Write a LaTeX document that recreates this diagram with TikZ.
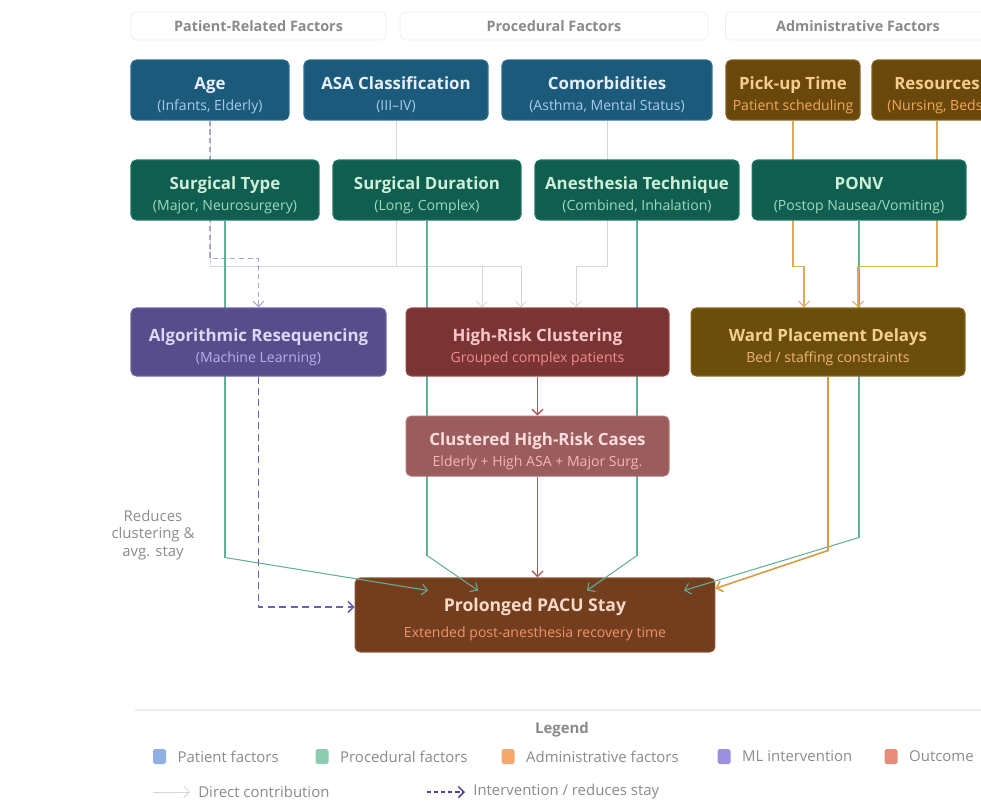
\documentclass[tikz,border=0pt]{standalone}
\usepackage{fontspec}
\setmainfont{Open Sans}
\usetikzlibrary{arrows.meta,positioning}
\pgfdeclarelayer{bg}
\pgfsetlayers{bg,main}

\definecolor{patfill}{HTML}{1C5A7B}
\definecolor{patline}{HTML}{2A6C90}
\definecolor{pattitle}{HTML}{E6EFF7}
\definecolor{patsub}{HTML}{A7CBEB}
\definecolor{procfill}{HTML}{0F5E4F}
\definecolor{procline}{HTML}{1D7262}
\definecolor{proctitle}{HTML}{CDEFD9}
\definecolor{procsub}{HTML}{9FD9BF}
\definecolor{admfill}{HTML}{6A480B}
\definecolor{admline}{HTML}{84601E}
\definecolor{admtitle}{HTML}{F6CB8E}
\definecolor{admsub}{HTML}{F2A95E}
\definecolor{mlfill}{HTML}{564D8A}
\definecolor{mlline}{HTML}{6A62A3}
\definecolor{mltitle}{HTML}{DCD8F5}
\definecolor{mlsub}{HTML}{B7AEEF}
\definecolor{riskfill}{HTML}{7A3434}
\definecolor{riskline}{HTML}{904646}
\definecolor{risktitle}{HTML}{F8C8C8}
\definecolor{risksub}{HTML}{F28C8C}
\definecolor{wardfill}{HTML}{6B4E0B}
\definecolor{wardline}{HTML}{86661E}
\definecolor{wardtitle}{HTML}{F6D08E}
\definecolor{wardsub}{HTML}{EFB475}
\definecolor{clusfill}{HTML}{9A5C5C}
\definecolor{clusline}{HTML}{B07272}
\definecolor{clustitle}{HTML}{FCDCDC}
\definecolor{clussub}{HTML}{F5B7B3}
\definecolor{pacufill}{HTML}{723E1E}
\definecolor{paculine}{HTML}{8C5130}
\definecolor{pacutitle}{HTML}{F8D9C8}
\definecolor{pacusub}{HTML}{F2926C}
\definecolor{hdtext}{HTML}{8A8A8A}
\definecolor{hdline}{HTML}{EDEDED}
\definecolor{grayconn}{HTML}{D6D6D6}
\definecolor{tealconn}{HTML}{62B09A}
\definecolor{orangeconn}{HTML}{DDAA5E}
\definecolor{wardconn}{HTML}{D89A3C}
\definecolor{roseconn}{HTML}{A65A5A}
\definecolor{mlconn}{HTML}{6B5FB3}
\definecolor{mlconnlight}{HTML}{ABA5CA}
\definecolor{notetext}{HTML}{8C8C8C}
\definecolor{keypat}{HTML}{8FB1E3}
\definecolor{keyproc}{HTML}{8CCDB0}
\definecolor{keyadm}{HTML}{F4A86C}
\definecolor{keyml}{HTML}{9B91E0}
\definecolor{keyout}{HTML}{E58D78}
\definecolor{keydash}{HTML}{4A4390}

\newcommand{\boxtitle}[1]{\rule{0pt}{14pt}{\fontsize{9.6}{12}\selectfont\bfseries #1}}
\newcommand{\boxsub}[2]{{\fontsize{8}{10}\selectfont\color{#1}#2}\rule[-3pt]{0pt}{3pt}}

\begin{document}
\begin{tikzpicture}[x=0.02cm, y=-0.02cm,
    >={Straight Barb[length=1.1mm,width=2.2mm]},
    factor/.style={rectangle, rounded corners=3pt, draw=#1line, fill=#1fill,
      text=#1title, align=center, minimum height=1.2cm, inner sep=1pt, line width=0.6pt,
      font=\fontsize{8}{12}\selectfont},
    header/.style={rectangle, rounded corners=3pt, draw=hdline, fill=white, text=hdtext,
      minimum height=0.56cm, font=\fontsize{8.2}{10}\selectfont\bfseries},
    gline/.style={draw=grayconn, line width=0.5pt},
    tline/.style={draw=tealconn, line width=0.6pt},
    oline/.style={draw=orangeconn, line width=0.6pt},
    rline/.style={draw=roseconn, line width=0.8pt},
    mlline/.style={draw=mlconn, line width=0.9pt, dash pattern=on 4pt off 2.5pt},
    mllight/.style={draw=mlconnlight, line width=0.6pt, dash pattern=on 3pt off 2pt},
    note/.style={text=notetext, align=center, font=\fontsize{8.5}{9.8}\selectfont},
    key/.style={rectangle, rounded corners=1pt, minimum width=0.26cm, minimum height=0.3cm, inner sep=0pt},
    keytext/.style={text=hdtext, inner sep=0pt, anchor=west, font=\fontsize{8.5}{10}\selectfont}]
  \useasboundingbox (0,0) rectangle (981,801);
  \clip (0,0) rectangle (981,801);

  % column headers
  \node[header, minimum width=5.1cm] (hdpat) at (258.5,26) {Patient-Related Factors};
  \node[header, minimum width=6.16cm] (hdproc) at (554,26) {Procedural Factors};
  \node[header, minimum width=5.5cm] (hdadm) at (863,26) {\hspace*{-0.2cm}Administrative Factors};

  % first row
  \node[factor=pat, minimum width=3.16cm] (age) at (210,90) {\boxtitle{Age}\\\boxsub{patsub}{(Infants, Elderly)}};
  \node[factor=pat, minimum width=3.68cm] (asa) at (396,90) {\boxtitle{ASA Classification}\\\boxsub{patsub}{(III--IV)}};
  \node[factor=pat, minimum width=4.2cm] (comorb) at (607,90) {\boxtitle{Comorbidities}\\\boxsub{patsub}{(Asthma, Mental Status)}};
  \node[factor=adm, minimum width=2.68cm] (pickup) at (793,90) {\boxtitle{Pick-up Time}\\\boxsub{admsub}{Patient scheduling}};
  \node[factor=adm, minimum width=2.6cm] (resources) at (937,90) {\boxtitle{Resources}\\\boxsub{admsub}{(Nursing, Beds)}};

  % second row
  \node[factor=proc, minimum width=3.76cm] (surgtype) at (225,190) {\boxtitle{Surgical Type}\\\boxsub{procsub}{(Major, Neurosurgery)}};
  \node[factor=proc, minimum width=3.76cm] (surgdur) at (427,190) {\boxtitle{Surgical Duration}\\\boxsub{procsub}{(Long, Complex)}};
  \node[factor=proc, minimum width=4.08cm] (anesth) at (637,190) {\boxtitle{Anesthesia Technique}\\\boxsub{procsub}{(Combined, Inhalation)}};
  \node[factor=proc, minimum width=4.28cm] (ponv) at (859,190) {\boxtitle{PONV}\\\boxsub{procsub}{(Postop Nausea/Vomiting)}};

  % mechanisms
  \node[factor=ml, minimum width=5.1cm, minimum height=1.36cm] (algo) at (258.5,342) {\boxtitle{Algorithmic Resequencing}\\\boxsub{mlsub}{(Machine Learning)}};
  \node[factor=risk, minimum width=5.26cm, minimum height=1.36cm] (highrisk) at (537.5,342) {\boxtitle{High-Risk Clustering}\\\boxsub{risksub}{Grouped complex patients}};
  \node[factor=ward, minimum width=5.48cm, minimum height=1.36cm] (ward) at (828,342) {\boxtitle{Ward Placement Delays}\\\boxsub{wardsub}{Bed / staffing constraints}};
  \node[factor=clus, minimum width=5.26cm, below=0.78cm of highrisk] (clustered) {\boxtitle{Clustered High-Risk Cases}\\\boxsub{clussub}{Elderly + High ASA + Major Surg.}};

  % outcome
  \node[factor=pacu, minimum width=7.2cm, minimum height=1.48cm] (pacu) at (535,615) {\rule{0pt}{14pt}{\fontsize{10}{12}\selectfont\bfseries Prolonged PACU Stay}\\[2.7pt]\boxsub{pacusub}{Extended post-anesthesia recovery time}};

  \node[note] (reduces) at (153,535) {Reduces\\clustering \&\\avg. stay};

  % bends above the outcome box
  \path (surgtype.south) ++(0,337) coordinate (stbend);
  \path (surgdur.south) ++(0,335) coordinate (sdbend);
  \path (anesth.south) ++(0,335) coordinate (atbend);
  \path (ponv.south) ++(0,317) coordinate (pnbend);
  \path (ward.south) ++(0,174) coordinate (wdbend);

  \begin{pgfonlayer}{bg}
    \draw[gline, ->] (age.south) -- ++(0,146) -| ([xshift=-1.11cm]highrisk.north);
    \draw[gline, ->] (asa.south) -- ++(0,146) -| ([xshift=-0.33cm]highrisk.north);
    \draw[gline, ->] (comorb.south) -- ++(0,146) -| ([xshift=0.77cm]highrisk.north);
    \draw[mllight, ->] (age.south) -- ++(0,138) -| (algo.north);

    \draw[tline] (surgtype.south) -- (stbend);
    \draw[tline] (surgdur.south) -- (sdbend);
    \draw[tline] (anesth.south) -- (atbend);
    \draw[tline] (ponv.south) -- (pnbend);

    \draw[oline, ->] (pickup.south) -- ++(0,146) -| ([xshift=-0.48cm]ward.north);
    \draw[oline, ->] (resources.south) -- ++(0,146) -| ([xshift=0.6cm]ward.north);
  \end{pgfonlayer}

  \draw[tline, ->] (stbend) -- ([shift={(-107,13)}]pacu.north);
  \draw[tline, ->] (sdbend) -- ([shift={(-57,13)}]pacu.north);
  \draw[tline, ->] (atbend) -- ([shift={(52,13)}]pacu.north);
  \draw[tline, ->] (pnbend) -- ([shift={(149,13)}]pacu.north);
  \draw[draw=wardconn, line width=0.9pt, ->] (ward.south) -- (wdbend) -- ([shift={(0,11)}]pacu.north east);

  \draw[rline, ->] (highrisk) -- (clustered);
  \draw[rline, ->] (clustered.south) -- (clustered.south |- pacu.north);
  \draw[mlline, ->] (algo.south) |- ([yshift=0.16cm]pacu.west);

  % legend
  \draw[draw=hdline, line width=0.6pt] (135,710) -- (981,710);
  \node[text=hdtext, font=\fontsize{8.5}{10}\selectfont\bfseries] (legend) at (562,730) {Legend};
  \node[key, fill=keypat] (kpat) at (159.5,756.5) {};
  \node[keytext, right=0.22cm of kpat] (kpattext) {Patient factors};
  \node[key, fill=keyproc] (kproc) at (322,756.5) {};
  \node[keytext, right=0.22cm of kproc] (kproctext) {Procedural factors};
  \node[key, fill=keyadm] (kadm) at (508,756.5) {};
  \node[keytext, right=0.22cm of kadm] (kadmtext) {Administrative factors};
  \node[key, fill=keyml] (kml) at (724,756.5) {};
  \node[keytext, right=0.22cm of kml] (kmltext) {ML intervention};
  \node[key, fill=keyout] (kout) at (891,756.5) {};
  \node[keytext, right=0.22cm of kout] (kouttext) {Outcome};

  \coordinate (ldirA) at (153,792);
  \coordinate (ldirB) at (190,792);
  \draw[gline, ->] (ldirA) -- (ldirB);
  \node[keytext, right=0.16cm of ldirB] (ldirtext) {Direct contribution};
  \coordinate (lintA) at (427,792);
  \coordinate (lintB) at (465,792);
  \draw[draw=keydash, line width=0.9pt, dash pattern=on 2.5pt off 1.5pt, ->] (lintA) -- (lintB);
  \node[keytext, right=0.16cm of lintB] (linttext) {Intervention / reduces stay};
\end{tikzpicture}
\end{document}
